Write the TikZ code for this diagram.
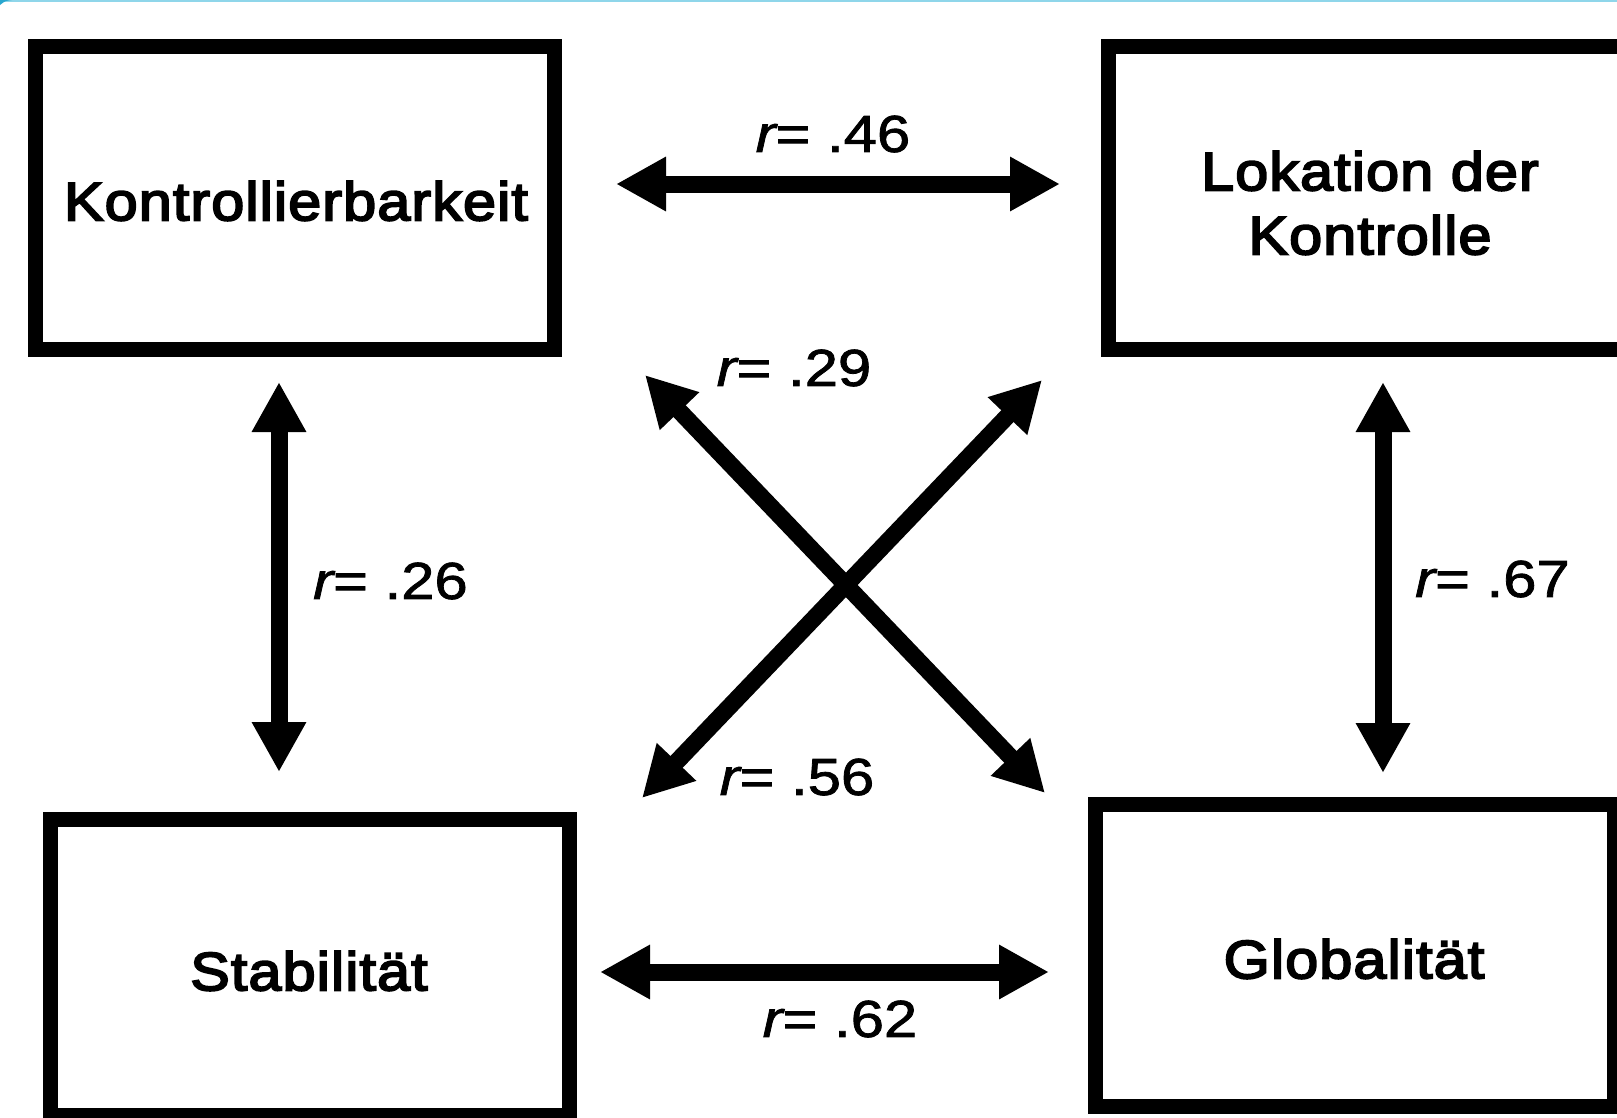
\documentclass[tikz,border=0pt]{standalone}
\usepackage{fontspec}
\setmainfont{Liberation Sans}
\newfontfamily\labfont{Liberation Sans}[FakeStretch=1.15, FakeBold=1.5]
\newfontfamily\boxfont{Liberation Sans}[FakeStretch=1.1, FakeBold=3.5, LetterSpace=2]
\usetikzlibrary{arrows.meta}
\definecolor{framecyan}{HTML}{8FD6EA}
\definecolor{framedark}{HTML}{2AA7CF}
\begin{document}
\begin{tikzpicture}[x=1pt,y=-1pt,
  varbox/.style={draw=black, line width=15pt, rectangle, minimum width=519pt, inner sep=0pt},
  boxtext/.style={font=\boxfont\fontsize{54}{64}\selectfont, align=center, inner sep=0pt},
  rlabel/.style={font=\labfont\fontsize{52}{60}\selectfont, inner sep=0pt},
  corr/.style={line width=17pt, {Triangle[length=50pt,width=51pt]}-{Triangle[length=50pt,width=51pt]}}]
\useasboundingbox (0,0) rectangle (1617,1117);
\clip (0,0) rectangle (1617,1117);
\fill[white] (0,0) rectangle (1617,1117);
\draw[framecyan, line width=2.5pt] (0,1) -- (1617,1);
\fill[framedark] (0,0) -- (12,0) .. controls (5,1) .. (0,5) -- cycle;

% boxes
\node[varbox, minimum height=303pt] (K) at (295,198) {};
\node[varbox, minimum height=303pt] (L) at (1368,198) {};
\node[varbox, minimum height=296pt] (S) at (310,967) {};
\node[varbox, minimum height=302pt] (G) at (1355,955.5) {};

\node[boxtext] (Kt) at (296,201) {Kontrollierbarkeit};
\node[boxtext] (Lt) at (1370,203) {Lokation der\\Kontrolle};
\node[boxtext] (St) at (309,971) {Stabilität};
\node[boxtext] (Gt) at (1354,959) {Globalität};

% arrow end points
\coordinate (a1) at (616,184);  \coordinate (a2) at (1060,184);
\coordinate (b1) at (279,382);  \coordinate (b2) at (279,772);
\coordinate (c1) at (1383,382); \coordinate (c2) at (1383,773);
\coordinate (d1) at (600,972);  \coordinate (d2) at (1049,972);
\coordinate (e1) at (645,375);  \coordinate (e2) at (1045,793);
\coordinate (f1) at (642,798);  \coordinate (f2) at (1042,380);

\draw[corr] (a1) -- (a2);
\draw[corr] (b1) -- (b2);
\draw[corr] (c1) -- (c2);
\draw[corr] (d1) -- (d2);
\draw[corr] (e1) -- (e2);
\draw[corr] (f1) -- (f2);

% labels
\node[rlabel] (l46) at (833,134) {\itshape r\upshape= .46};
\node[rlabel] (l29) at (794,368) {\itshape r\upshape= .29};
\node[rlabel, anchor=west] (l26) at (313,581) {\itshape r\upshape= .26};
\node[rlabel, anchor=west] (l67) at (1415,579) {\itshape r\upshape= .67};
\node[rlabel] (l56) at (797,777) {\itshape r\upshape= .56};
\node[rlabel] (l62) at (840,1019) {\itshape r\upshape= .62};
\end{tikzpicture}
\end{document}
